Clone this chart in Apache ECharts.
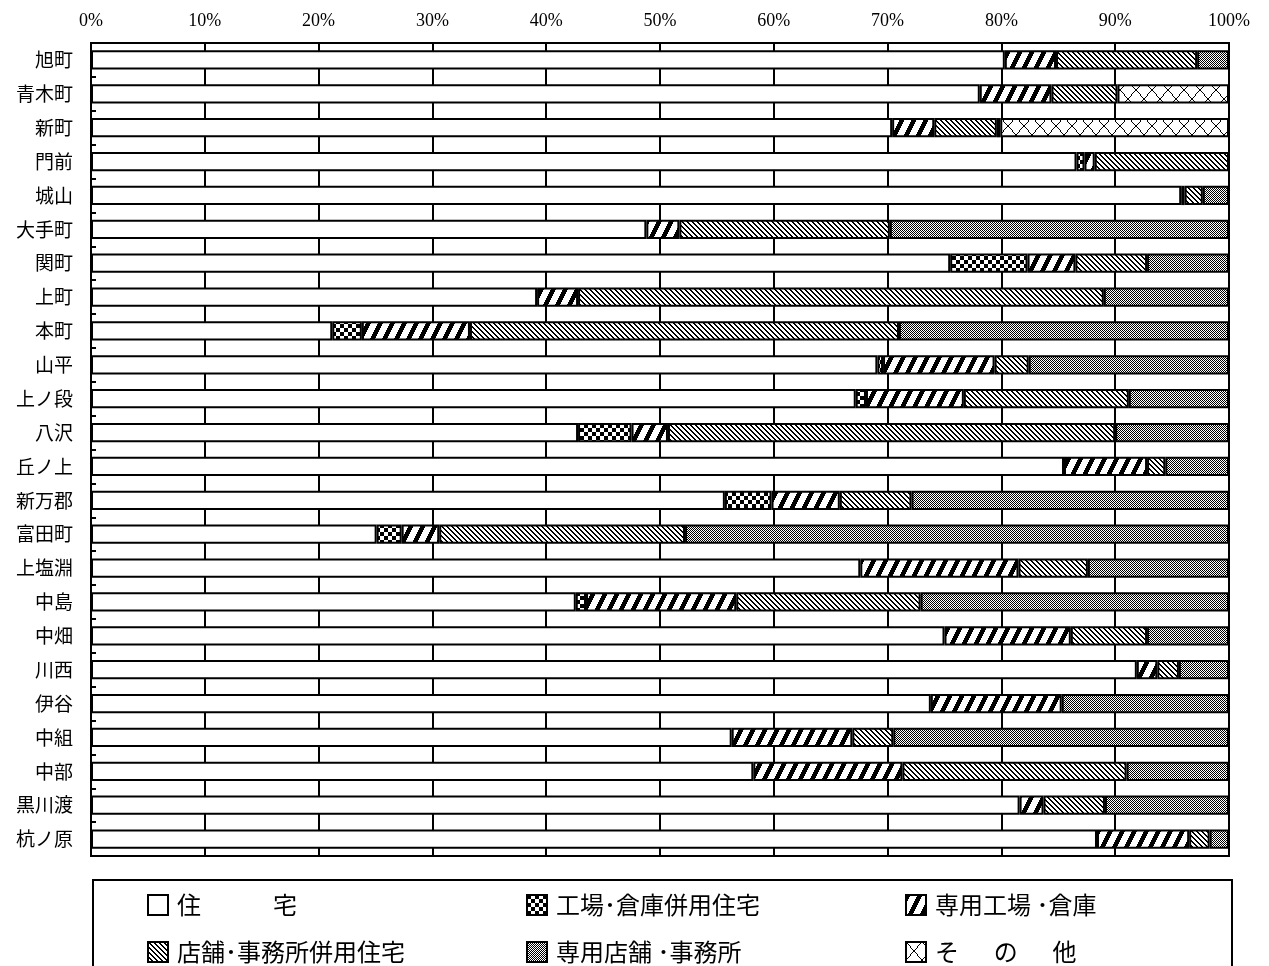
<!DOCTYPE html>
<html>
<head>
<meta charset="utf-8">
<script src="https://cdn.jsdelivr.net/npm/echarts@6/dist/echarts.min.js"></script>
<style>
  html, body { margin: 0; padding: 0; background: #fff; }
  #chart { width: 1269px; height: 966px; }
</style>
</head>
<body>
<div id="chart"></div>
<script>
// 地区別 建物用途構成比（%）
const categories = ['旭町', '青木町', '新町', '門前', '城山', '大手町', '関町', '上町', '本町', '山平', '上ノ段', '八沢',
  '丘ノ上', '新万郡', '富田町', '上塩淵', '中島', '中畑', '川西', '伊谷', '中組', '中部', '黒川渡', '杭ノ原'];

const seriesNames = ['住　　　宅', '工場･倉庫併用住宅', '専用工場 ･倉庫', '店舗･事務所併用住宅', '専用店舗 ･事務所', 'そ　  の　  他'];

const housing        = [80.3, 78.1, 70.4, 86.6, 95.8, 48.8, 75.5, 39.2, 21.2, 69.1, 67.2, 42.8, 85.5, 55.7, 25.1, 67.6, 42.6, 75.0, 91.9, 73.8, 56.3, 58.2, 81.6, 88.4];
const factoryMixed   = [0, 0, 0, 0.7, 0, 0, 6.8, 0, 2.6, 0.5, 0.9, 4.7, 0, 4.1, 2.2, 0, 0.9, 0, 0, 0, 0, 0, 0, 0];
const factory        = [4.5, 6.3, 3.7, 0.9, 0.3, 2.9, 4.2, 3.6, 9.5, 9.8, 8.6, 3.2, 7.3, 6.0, 3.3, 13.9, 13.2, 11.1, 1.8, 11.5, 10.6, 13.1, 2.1, 8.1];
const shopMixed      = [12.4, 5.8, 5.5, 11.8, 1.6, 18.5, 6.3, 46.2, 37.7, 3.0, 14.5, 39.3, 1.6, 6.3, 21.6, 6.1, 16.2, 6.7, 1.9, 0, 3.6, 19.7, 5.4, 1.8];
const shopOffice     = [2.8, 0, 0.3, 0, 2.3, 29.8, 7.2, 11.0, 29.0, 17.6, 8.8, 10.0, 5.6, 27.9, 47.8, 12.4, 27.1, 7.2, 4.4, 14.7, 29.5, 9.0, 10.9, 1.7];
const others         = [0, 9.8, 20.1, 0, 0, 0, 0, 0, 0, 0, 0, 0, 0, 0, 0, 0, 0, 0, 0, 0, 0, 0, 0, 0];

const xTicks = [0, 10, 20, 30, 40, 50, 60, 70, 80, 90, 100];

// 白黒の塗りパターン（ピクセル単位で作成）
function makePattern(w, h, isBlack) {
  const c = document.createElement('canvas');
  c.width = w; c.height = h;
  const g = c.getContext('2d');
  const img = g.createImageData(w, h);
  for (let y = 0; y < h; y++) {
    for (let x = 0; x < w; x++) {
      const v = isBlack(x, y) ? 0 : 255;
      const i = (y * w + x) * 4;
      img.data[i] = v; img.data[i + 1] = v; img.data[i + 2] = v; img.data[i + 3] = 255;
    }
  }
  g.putImageData(img, 0, 0);
  return { image: c, repeat: 'repeat' };
}

const fills = [
  '#ffffff',
  makePattern(8, 8, (x, y) => ((Math.floor(x / 4) + Math.floor(y / 4)) % 2) === 0),
  makePattern(12, 24, (x, y) => ((((x - Math.floor((23 - y) / 2)) % 12) + 12) % 12) < 5),
  makePattern(5, 5, (x, y) => ((((x - y) % 5) + 5) % 5) < 2),
  makePattern(2, 2, (x, y) => ((x + y) % 2) === 0),
  makePattern(16, 18, (x, y) => Math.round(y * 15 / 17) === x || Math.round(y * 15 / 17) === 15 - x)
];

const values = [housing, factoryMixed, factory, shopMixed, shopOffice, others];

const series = seriesNames.map((name, i) => ({
  name: name,
  type: 'bar',
  stack: 'total',
  barCategoryGap: '43%',
  data: values[i].map(v => (v === 0 ? '-' : v)),
  itemStyle: { color: fills[i], borderColor: '#000', borderWidth: 2 },
  emphasis: { disabled: true },
  silent: true
}));

const legendText = {
  fontFamily: '"Noto Sans CJK JP", sans-serif',
  fontSize: 24,
  color: '#000',
  lineHeight: 20,
  padding: [0, 0, 0, 4]
};

function legendColumn(left, names) {
  return {
    data: names,
    orient: 'vertical',
    left: left,
    top: 893,
    padding: 0,
    itemWidth: 20,
    itemHeight: 20,
    itemGap: 23,
    icon: 'rect',
    selectedMode: false,
    textStyle: legendText
  };
}

const chart = echarts.init(document.getElementById('chart'), null, { renderer: 'canvas' });
chart.setOption({
  backgroundColor: '#fff',
  animation: false,
  grid: {
    left: 91, right: 40, top: 43, bottom: 110,
    show: true, borderColor: '#000', borderWidth: 2, backgroundColor: 'transparent'
  },
  xAxis: {
    type: 'value',
    position: 'top',
    min: xTicks[0],
    max: xTicks[xTicks.length - 1],
    interval: xTicks[1] - xTicks[0],
    axisLine: { show: true, lineStyle: { color: '#000', width: 2 } },
    axisTick: { show: false },
    splitLine: { show: true, lineStyle: { color: '#000', width: 2 } },
    axisLabel: {
      formatter: '{value}%',
      fontFamily: '"Liberation Serif", serif',
      fontSize: 18,
      color: '#000',
      margin: 13
    }
  },
  yAxis: {
    type: 'category',
    inverse: true,
    data: categories,
    axisLine: { show: true, lineStyle: { color: '#000', width: 2 } },
    axisTick: { show: true, inside: true, length: 5, lineStyle: { color: '#000', width: 2 } },
    splitLine: { show: false },
    axisLabel: {
      fontFamily: '"Noto Sans CJK JP", sans-serif',
      fontSize: 19,
      color: '#000',
      margin: 18
    }
  },
  legend: [
    legendColumn(147, [seriesNames[0], seriesNames[3]]),
    legendColumn(526, [seriesNames[1], seriesNames[4]]),
    legendColumn(905, [seriesNames[2], seriesNames[5]])
  ],
  graphic: [{
    type: 'rect',
    shape: { x: 93, y: 880, width: 1139, height: 130 },
    style: { fill: 'none', stroke: '#000', lineWidth: 2 },
    silent: true
  }],
  series: series
});
</script>
</body>
</html>
